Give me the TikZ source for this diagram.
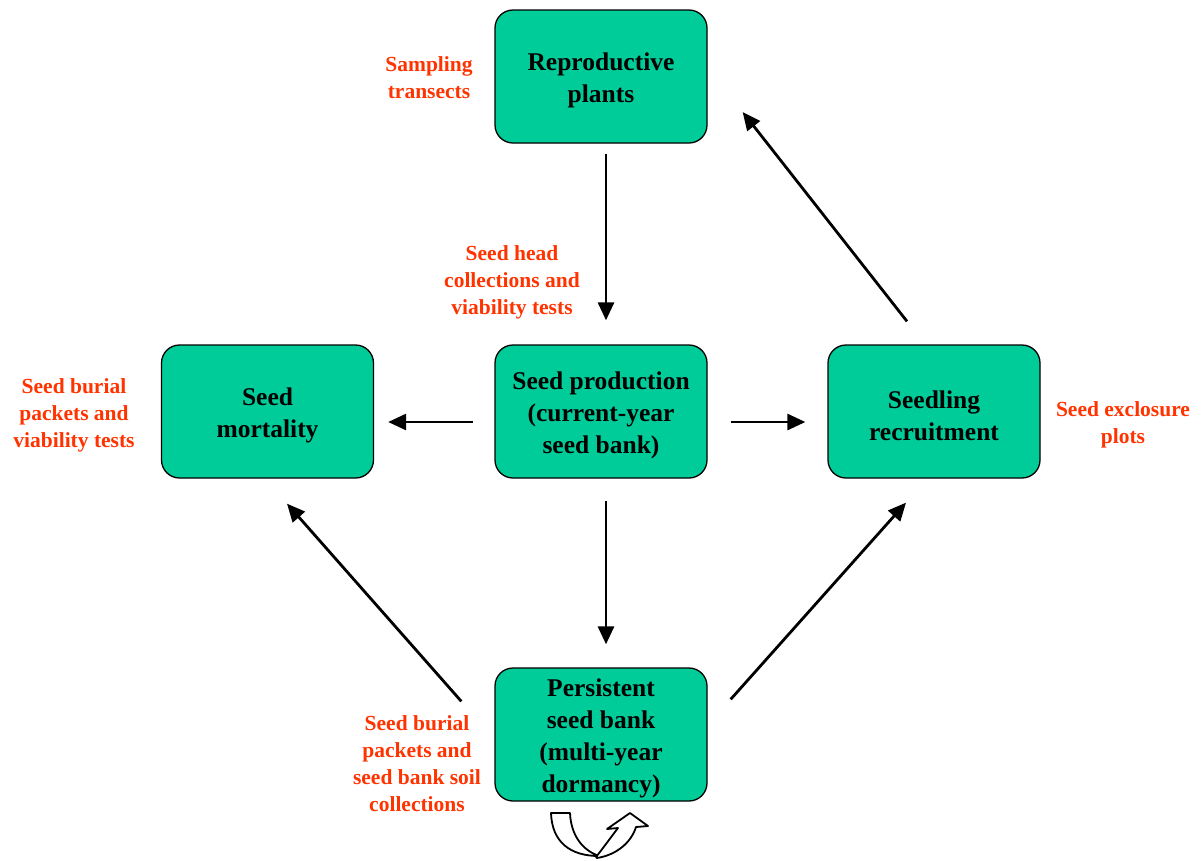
\documentclass[tikz,border=0pt]{standalone}
\usepackage{fontspec}
\setmainfont{Liberation Serif}
\usetikzlibrary{arrows.meta,calc}
\definecolor{boxgreen}{RGB}{0,204,153}
\definecolor{labred}{RGB}{255,51,0}
\newcommand\toppad{\rule{0pt}{26pt}}
\tikzset{
  stagebox/.style={draw=black, line width=1.3pt, fill=boxgreen, rounded corners=18pt,
    minimum width=212pt, minimum height=133pt, align=center, inner sep=0pt,
    font=\fontsize{25.5}{32}\selectfont\bfseries},
  methlabel/.style={text=labred, align=center, inner sep=0pt,
    font=\fontsize{21.5}{27}\selectfont\bfseries},
  flow/.style={line width=2.8pt, -{Triangle[length=18pt,width=16pt]}},
  hollow/.style={draw=black, line width=1.8pt, fill=white, line join=round}
}
\begin{document}
\begin{tikzpicture}[x=1pt,y=-1pt]
\path[use as bounding box] (0,0) rectangle (1202,860);

\node[stagebox] (repro) at (601,76.5) {\toppad Reproductive\\plants};
\node[stagebox] (mort) at (267.5,411.5) {\toppad Seed\\mortality};
\node[stagebox] (prod) at (601,411.5) {\toppad Seed production\\(current-year\\seed bank)};
\node[stagebox] (recr) at (934,411.5) {\toppad Seedling\\recruitment};
\node[stagebox] (pers) at (601,734.5) {\toppad Persistent\\seed bank\\(multi-year\\dormancy)};

\node[methlabel] (lsamp) at (429,78) {Sampling\\transects};
\node[methlabel] (lhead) at (512,282.5) {Seed head\\collections and\\viability tests};
\node[methlabel] (lburial) at (74,415.5) {Seed burial\\packets and\\viability tests};
\node[methlabel] (lexcl) at (1123,424.5) {Seed exclosure\\plots};
\node[methlabel] (lsoil) at (417,763.5) {Seed burial\\packets and\\seed bank soil\\collections};

\draw[flow] ($(repro.south)+(5,10)$) -- ($(prod.north)+(5,-24)$);
\draw[flow] ($(prod.west)+(-21,10.5)$) -- ($(mort.east)+(14,10.5)$);
\draw[flow] ($(prod.east)+(23,10.5)$) -- ($(recr.west)+(-22,10.5)$);
\draw[flow] ($(prod.south)+(5,22)$) -- ($(pers.north)+(5,-23)$);
\draw[flow] ($(recr.north)+(-27,-23)$) -- ($(repro.east)+(35,35.5)$);
\draw[flow] ($(pers.north west)+(-33,34)$) -- ($(mort.south)+(19.5,25)$);
\draw[flow] ($(pers.north east)+(23,32)$) -- ($(recr.south)+(-28,24)$);

% self-loop hollow arrow under the persistent seed bank
\draw[hollow] (551,813) -- (570,813) .. controls (571,835) and (582,850) .. (599,856)
  .. controls (570,856) and (552,842) .. (551,813) -- cycle;
\draw[hollow] (596,857) .. controls (604,847) and (611,837) .. (618,828) -- (607,829)
  -- (630,813) -- (648,826) -- (636,827) .. controls (631,843) and (616,855) .. (597,858) -- cycle;
\end{tikzpicture}
\end{document}
